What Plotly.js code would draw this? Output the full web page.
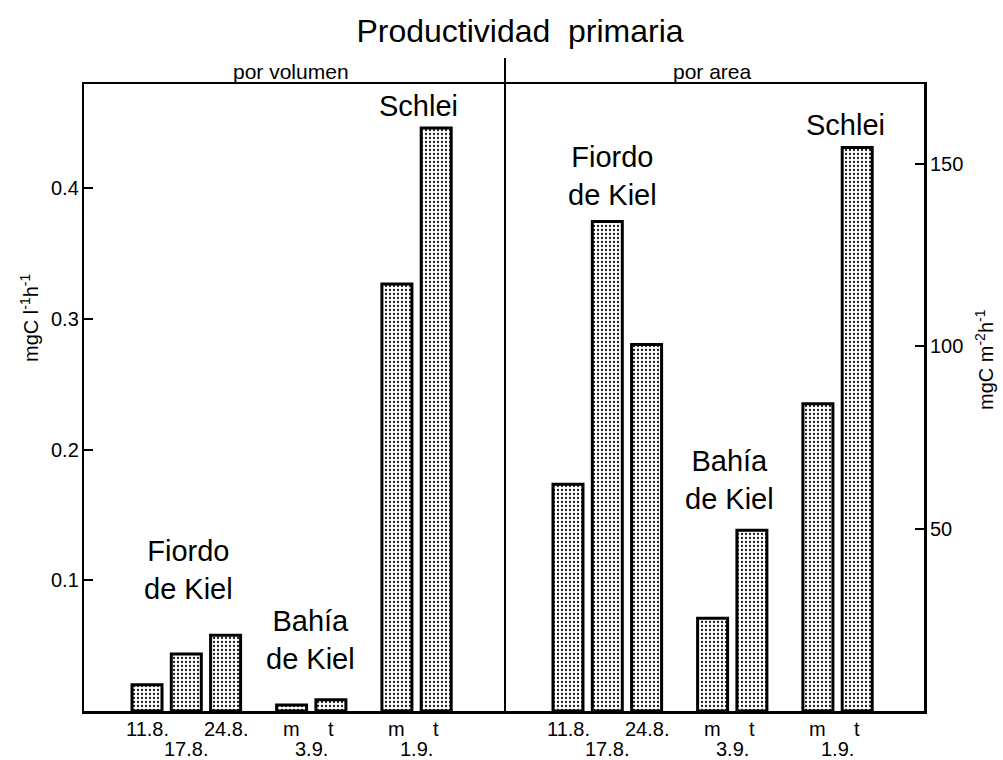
<!DOCTYPE html>
<html>
<head>
<meta charset="utf-8">
<script src="https://cdn.plot.ly/plotly-3.0.1.min.js"></script>
<style>
html,body{margin:0;padding:0;background:#fff;}
#chart{width:1003px;height:760px;}
</style>
</head>
<body>
<div id="chart"></div>
<script>
// ---- data ----
var groupNames = ['Fiordo<br>de Kiel', 'Bahía<br>de Kiel', 'Schlei'];
var groupSizes = [3, 2, 2];
var tickRow1 = ['11.8.', '', '24.8.', 'm', 't', 'm', 't'];
var tickRow2 = ['', '17.8.', '', '', '', '', ''];
var groupDates = ['', '3.9.', '1.9.'];
var volumen = [0.020, 0.0436, 0.058, 0.0046, 0.0087, 0.3267, 0.446];   // mgC l-1 h-1
var area = [62.1, 134.1, 100.4, 25.4, 49.5, 84.2, 154.4];              // mgC m-2 h-1
var leftTicks = [0.1, 0.2, 0.3, 0.4];
var rightTicks = [50, 100, 150];

// ---- layout helpers (positions in px-like x units) ----
var STEP = 39.3, GAP = 66, PANEL_SHIFT = 421, START = 147;
function positions(start) {
  var xs = [], groupsX = [], x = start;
  groupSizes.forEach(function (n, g) {
    var gx = [];
    for (var i = 0; i < n; i++) { xs.push(x); gx.push(x); if (i < n - 1) x += STEP; }
    groupsX.push(gx);
    x += GAP;
  });
  return {xs: xs, groups: groupsX};
}
var L = positions(START), R = positions(START + PANEL_SHIFT);

var TOP = 84, BOTTOM = 711, H = BOTTOM - TOP;
function py(p) { return (BOTTOM - p) / H; }

var FONT = 'Liberation Sans, Arial, sans-serif';
var pattern = {shape: '.', fgcolor: '#1a1a1a', bgcolor: '#ffffff', size: 4, solidity: 0.25};

var traces = [
  {type: 'bar', x: L.xs, y: volumen, yaxis: 'y', width: 30,
   marker: {color: '#ffffff', pattern: pattern, line: {color: '#000', width: 3}},
   hoverinfo: 'y', showlegend: false},
  {type: 'bar', x: R.xs, y: area, yaxis: 'y2', width: 30,
   marker: {color: '#ffffff', pattern: pattern, line: {color: '#000', width: 3}},
   hoverinfo: 'y', showlegend: false}
];

var ann = [];
function tickAnn(x, text, row) {
  if (!text) return;
  ann.push({xref: 'x', yref: 'paper', x: x, y: 0, yanchor: 'middle', xanchor: 'center',
    yshift: row === 1 ? -18 : -38, showarrow: false, text: text,
    font: {family: FONT, size: 20, color: '#000'}});
}
[L, R].forEach(function (P) {
  P.xs.forEach(function (x, i) { tickAnn(x, tickRow1[i], 1); tickAnn(x, tickRow2[i], 2); });
  P.groups.forEach(function (gx, g) {
    tickAnn((gx[0] + gx[gx.length - 1]) / 2, groupDates[g], 2);
  });
});

// y tick labels placed tight against the axes
leftTicks.forEach(function (v) {
  ann.push({xref: 'paper', yref: 'y', x: 0, y: v, xanchor: 'right', yanchor: 'middle', xshift: -3,
    showarrow: false, text: String(v), font: {family: FONT, size: 20, color: '#000'}});
});
rightTicks.forEach(function (v) {
  ann.push({xref: 'paper', yref: 'y2', x: 1, y: v, xanchor: 'left', yanchor: 'middle', xshift: 4,
    showarrow: false, text: String(v), font: {family: FONT, size: 20, color: '#000'}});
});

// group names inside the plot
var nameXL = [188, 310, 418], nameYL = [570, 640, 106];
var nameXR = [612, 729, 845], nameYR = [176, 480, 125];
function textAnn(x, y, t, size, xref) {
  ann.push({xref: xref || 'x', yref: 'paper', x: x, y: y, xanchor: 'center', yanchor: 'middle',
    showarrow: false, text: t, align: 'center', font: {family: FONT, size: size, color: '#000'}});
}
groupNames.forEach(function (t, g) {
  textAnn(nameXL[g], py(nameYL[g]), t, 29);
  textAnn(nameXR[g], py(nameYR[g]), t, 29);
});

// panel subtitles
textAnn(291, py(72), 'por volumen', 21);
textAnn(712, py(72), 'por area', 21);
// axis titles
ann.push({xref: 'paper', yref: 'paper', x: 0, xshift: -55, y: py(318), xanchor: 'center', yanchor: 'middle',
  showarrow: false, textangle: -90,
  text: 'mgC l<sup>-1</sup>h<sup>-1</sup>', font: {family: FONT, size: 20, color: '#000'}});
ann.push({xref: 'paper', yref: 'paper', x: 1, xshift: 60, y: py(360), xanchor: 'center', yanchor: 'middle',
  showarrow: false, textangle: -90,
  text: 'mgC m<sup>-2</sup>h<sup>-1</sup>', font: {family: FONT, size: 20, color: '#000'}});

var layout = {
  width: 1003, height: 760,
  margin: {l: 84, r: 79, t: TOP, b: 760 - BOTTOM, pad: 0},
  paper_bgcolor: '#fff', plot_bgcolor: '#fff',
  title: {text: 'Productividad  primaria', x: 520 / 1003, xanchor: 'center', y: 1 - 31 / 760, yanchor: 'middle',
    font: {family: FONT, size: 32, color: '#000'}},
  xaxis: {range: [84, 924], showgrid: false, zeroline: false, showticklabels: false, ticks: '',
    showline: true, linecolor: '#000', linewidth: 2.5, mirror: true, fixedrange: true},
  yaxis: {range: [0, 0.4797], tickvals: leftTicks, showticklabels: false,
    ticks: 'inside', ticklen: 9, tickwidth: 2, tickcolor: '#000',
    showgrid: false, zeroline: false, showline: true, linecolor: '#000', linewidth: 2.5},
  yaxis2: {range: [0, 171.8], overlaying: 'y', side: 'right', tickvals: rightTicks, showticklabels: false,
    ticks: 'inside', ticklen: 9, tickwidth: 2, tickcolor: '#000',
    showgrid: false, zeroline: false, showline: true, linecolor: '#000', linewidth: 2.5},
  shapes: [{type: 'line', xref: 'x', yref: 'paper', x0: 505, x1: 505, y0: 0, y1: py(58),
    line: {color: '#000', width: 2}}],
  annotations: ann,
  bargap: 0
};

Plotly.newPlot('chart', traces, layout, {staticPlot: true, displayModeBar: false});
</script>
</body>
</html>
